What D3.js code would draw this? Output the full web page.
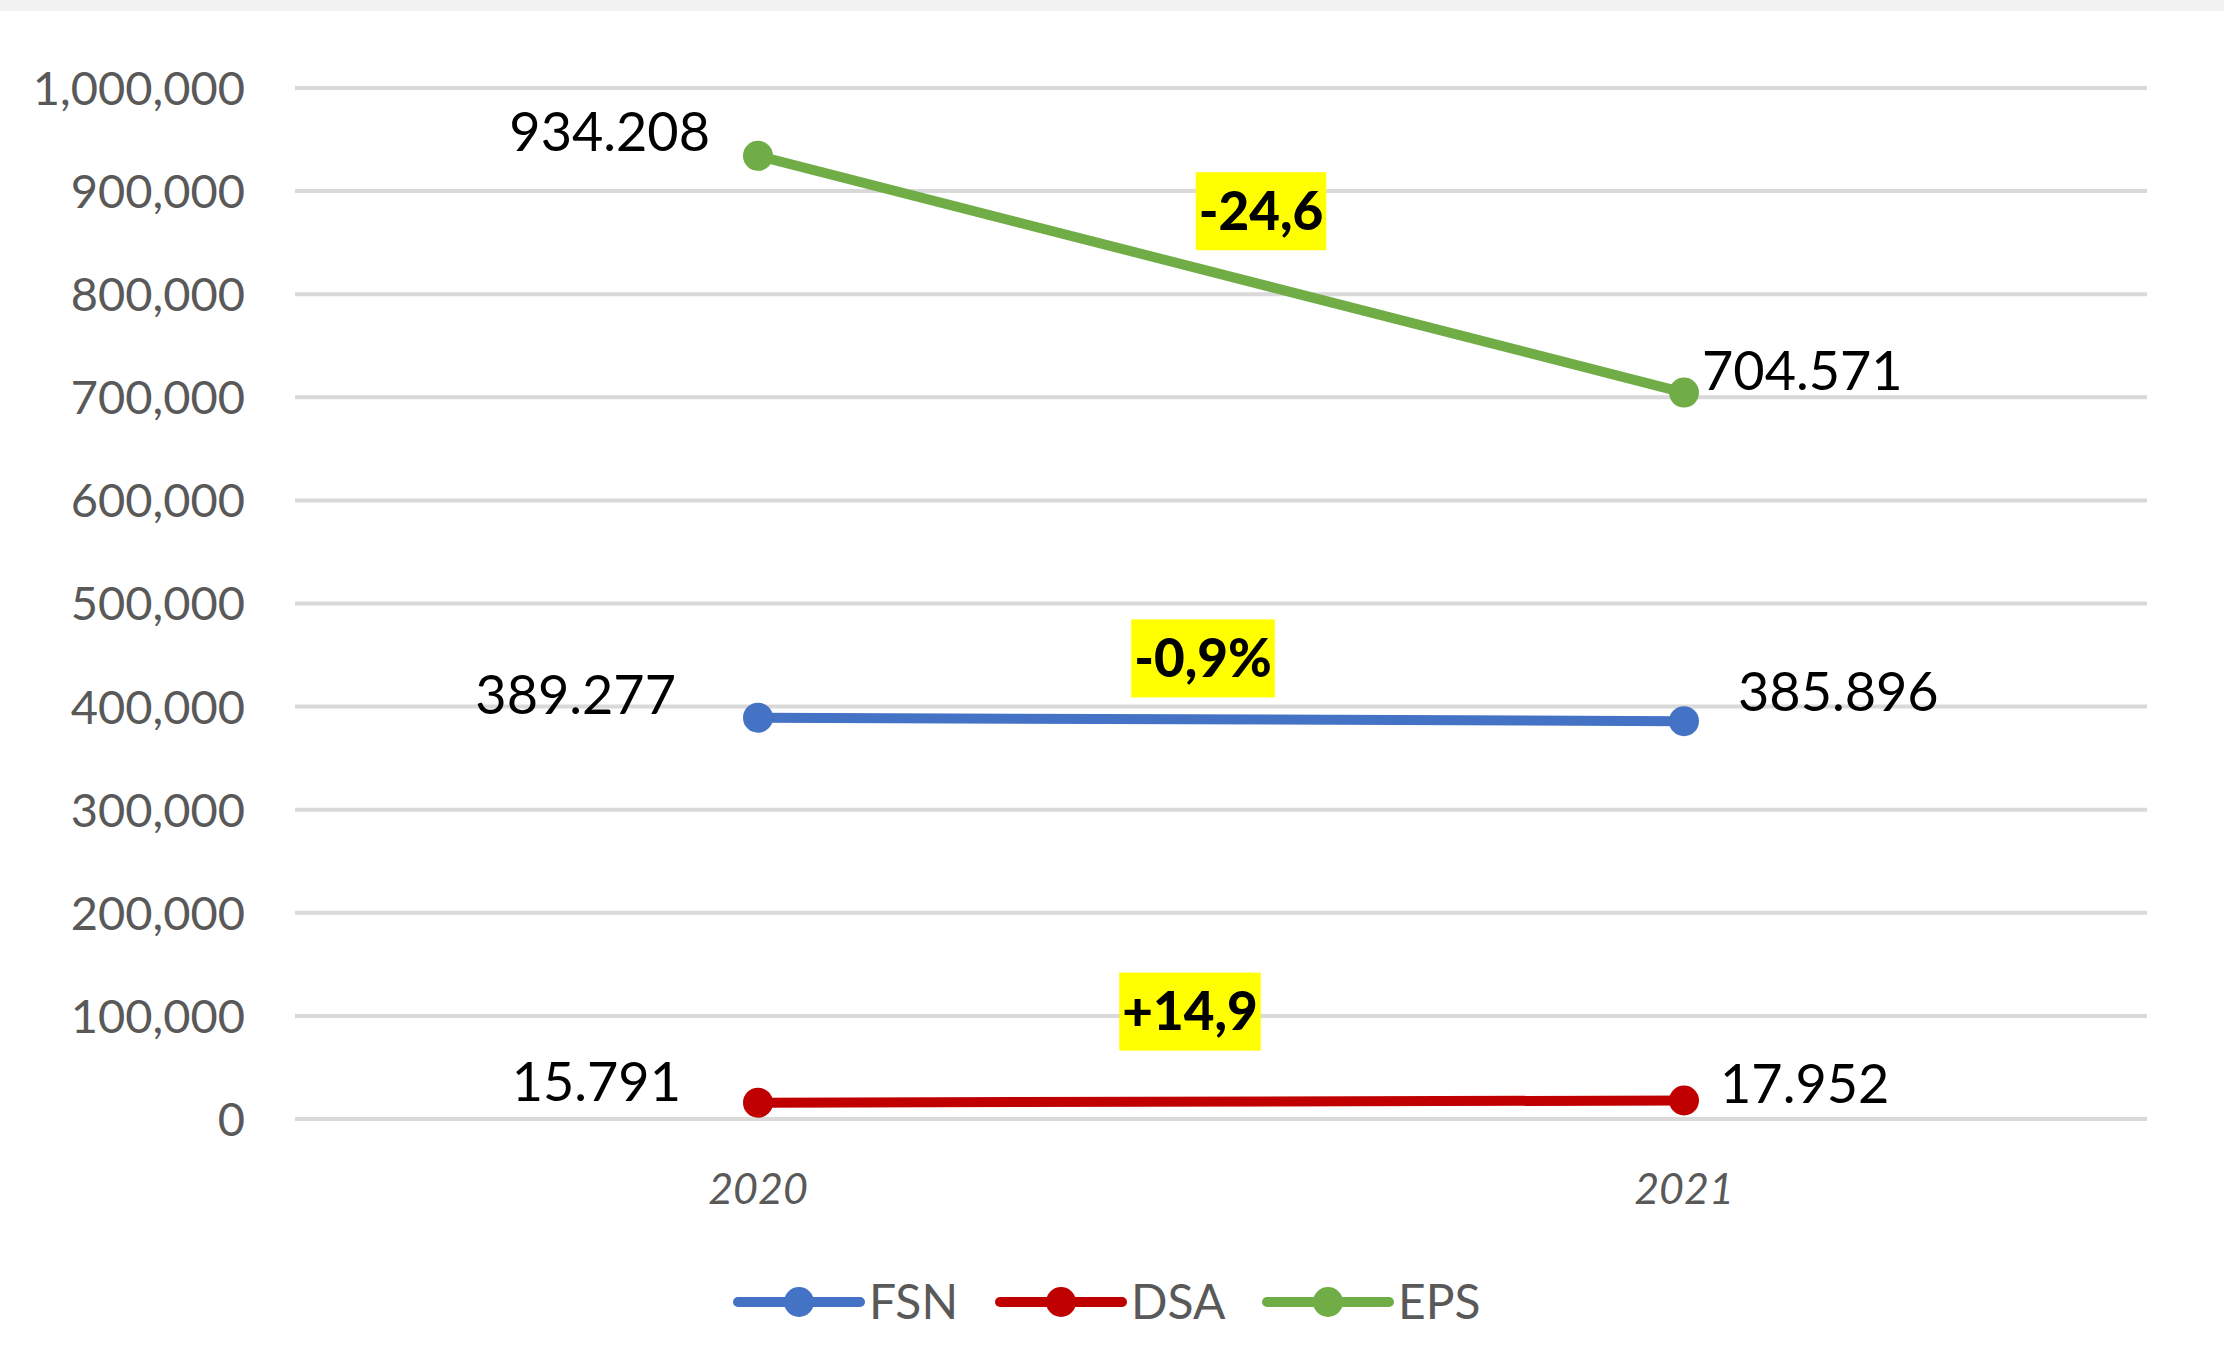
<!DOCTYPE html>
<html><head><meta charset="utf-8">
<script src="https://cdn.jsdelivr.net/npm/d3@7"></script>
<style>body{margin:0;background:#fff}svg{display:block}</style>
</head><body><svg id="c" width="2224" height="1359"></svg>
<script>
const categories = ["2020", "2021"];
const seriesNames = ["FSN", "DSA", "EPS"];
const fsnValues = [389277, 385896];
const dsaValues = [15791, 17952];
const epsValues = [934208, 704571];
const yTicks = [0, 100000, 200000, 300000, 400000, 500000, 600000, 700000, 800000, 900000, 1000000];
const changeLabels = ["-0,9%", "+14,9", "-24,6"];

const colors = {FSN: "#4472c4", DSA: "#c00000", EPS: "#70ad47"};
const series = [
  {name: "FSN", values: fsnValues, change: changeLabels[0]},
  {name: "DSA", values: dsaValues, change: changeLabels[1]},
  {name: "EPS", values: epsValues, change: changeLabels[2]}
];
// label placement offsets (px) per series per point
const labelOffsets = {
  FSN: [[-82, -23], [54, -29]],
  DSA: [[-77, -21], [36, -16]],
  EPS: [[-48, -24], [18, -21]]
};
const changeOffsets = {FSN: [-18, -61], DSA: [-31, -90], EPS: [40, -63]};

const FONT = "Lato, 'Open Sans', sans-serif";
const svg = d3.select("#c");
svg.append("rect").attr("x", 0).attr("y", 0).attr("width", 2224).attr("height", 11).attr("fill", "#f2f2f2");

const x = d3.scaleBand().domain(categories).range([295, 2147]).padding(0);
const y = d3.scaleLinear().domain([0, 1000000]).range([1119, 88]);
const cx = c => x(c) + x.bandwidth() / 2;

// gridlines
svg.append("g").selectAll("line").data(yTicks).join("line")
  .attr("x1", 295).attr("x2", 2147)
  .attr("y1", d => y(d)).attr("y2", d => y(d))
  .attr("stroke", "#d9d9d9").attr("stroke-width", 4);

// y axis
const yAxis = d3.axisLeft(y).tickValues(yTicks).tickFormat(d3.format(",")).tickSize(0).tickPadding(0);
const gy = svg.append("g").attr("transform", "translate(245,0)").call(yAxis);
gy.select(".domain").remove();
gy.selectAll("text").attr("font-family", FONT).attr("font-size", 47).attr("fill", "#595959").attr("dy", "0.35em");

// x axis
const xAxis = d3.axisBottom(x).tickSize(0).tickPadding(0);
const gx = svg.append("g").attr("transform", "translate(0,1189)").call(xAxis);
gx.select(".domain").remove();
gx.selectAll("text").attr("font-family", FONT).attr("font-size", 43).attr("font-style", "italic").attr("fill", "#595959").attr("dy", "0.35em");

// lines
const line = d3.line().x((d, i) => cx(categories[i])).y(d => y(d));
const fmt = d3.formatLocale({decimal: ",", thousands: ".", grouping: [3], currency: ["", ""]}).format(",");
series.forEach(s => {
  svg.append("path").datum(s.values).attr("d", line)
    .attr("fill", "none").attr("stroke", colors[s.name]).attr("stroke-width", 10).attr("stroke-linecap", "round");
  svg.append("g").selectAll("circle").data(s.values).join("circle")
    .attr("cx", (d, i) => cx(categories[i])).attr("cy", d => y(d)).attr("r", 15)
    .attr("fill", colors[s.name]);
  svg.append("g").selectAll("text").data(s.values).join("text")
    .attr("x", (d, i) => cx(categories[i]) + labelOffsets[s.name][i][0])
    .attr("y", (d, i) => y(d) + labelOffsets[s.name][i][1])
    .attr("dy", "0.35em")
    .attr("text-anchor", (d, i) => i === 0 ? "end" : "start")
    .attr("font-family", FONT).attr("font-size", 54).attr("fill", "#000")
    .text(d => fmt(d));
  // change annotation
  const mx = (cx(categories[0]) + cx(categories[1])) / 2 + changeOffsets[s.name][0];
  const my = y((s.values[0] + s.values[1]) / 2) + changeOffsets[s.name][1];
  const g = svg.append("g");
  const t = g.append("text").attr("x", mx).attr("y", my).attr("dy", "0.35em").attr("text-anchor", "middle")
    .attr("font-family", FONT).attr("font-size", 53).attr("font-weight", "900").attr("fill", "#000").text(s.change);
  const bb = t.node().getBBox();
  g.insert("rect", "text").attr("x", bb.x - 3).attr("y", my - 39).attr("width", bb.width + 6).attr("height", 78).attr("fill", "#ffff00");
});

// legend
const legendY = 1302;
const legendX = [738, 1000, 1267];
series.forEach((s, i) => {
  const g = svg.append("g").attr("transform", `translate(${legendX[i]},${legendY})`);
  g.append("line").attr("x1", 0).attr("x2", 122).attr("y1", 0).attr("y2", 0)
    .attr("stroke", colors[s.name]).attr("stroke-width", 10).attr("stroke-linecap", "round");
  g.append("circle").attr("cx", 61).attr("cy", 0).attr("r", 15).attr("fill", colors[s.name]);
  g.append("text").attr("x", 131).attr("y", 0).attr("dy", "0.35em")
    .attr("font-family", FONT).attr("font-size", 48).attr("fill", "#595959").text(s.name);
});
</script></body></html>
